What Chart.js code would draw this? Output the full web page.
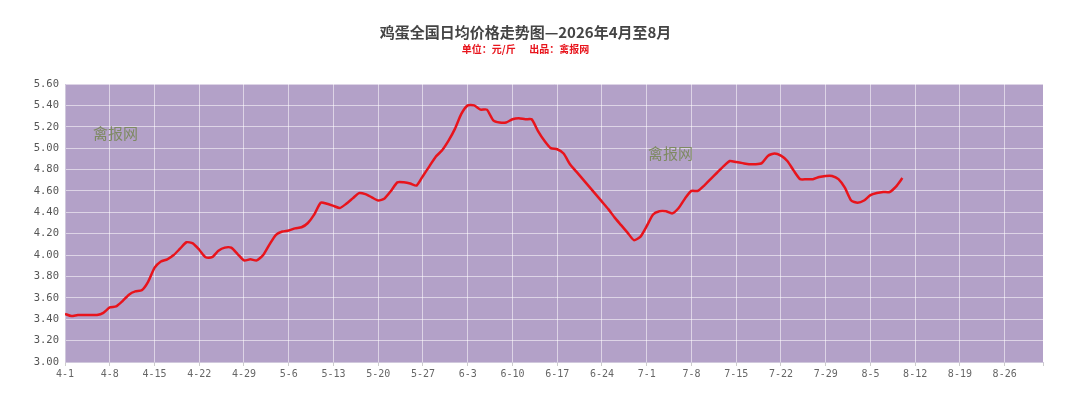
<!DOCTYPE html>
<html>
<head>
<meta charset="utf-8">
<script src="https://cdn.jsdelivr.net/npm/chart.js@4.4.1/dist/chart.umd.min.js"></script>
<style>
html,body{margin:0;padding:0;background:#fff;}
#wrap{width:1080px;height:418px;}
</style>
</head>
<body>
<div id="wrap"><canvas id="c" width="1080" height="418"></canvas></div>
<script>
const titleText = '鸡蛋全国日均价格走势图—2026年4月至8月';
const subtitleText = '单位：元/斤      出品：禽报网';
const watermark = '禽报网';

// Day labels from 4-1 to 9-1
const monthDays = [[4,30],[5,31],[6,30],[7,31],[8,31],[9,1]];
const days = [];
monthDays.forEach(([m,n]) => { for (let d=1; d<=n; d++) days.push(m+'-'+d); });

// x tick labels (every 7 days)
const tickLabels = ['4-1','4-8','4-15','4-22','4-29','5-6','5-13','5-20','5-27','6-3','6-10','6-17','6-24','7-1','7-8','7-15','7-22','7-29','8-5','8-12','8-19','8-26'];

// daily price (元/斤), 4-1 .. 8-10
const prices = [
3.45,3.43,3.44,3.44,3.44,3.44,3.46,3.51,3.52,3.57,
3.63,3.66,3.67,3.75,3.88,3.94,3.96,4.00,4.06,4.12,
4.11,4.05,3.98,3.98,4.04,4.07,4.07,4.01,3.95,3.96,
3.95,4.00,4.10,4.19,4.22,4.23,4.25,4.26,4.30,4.38,
4.49,4.48,4.46,4.44,4.48,4.53,4.58,4.57,4.54,4.51,
4.53,4.60,4.68,4.68,4.67,4.65,4.74,4.83,4.92,4.98,
5.07,5.18,5.32,5.40,5.40,5.36,5.36,5.26,5.24,5.24,
5.27,5.28,5.27,5.27,5.16,5.07,5.00,4.99,4.95,4.85,
4.78,4.71,4.64,4.57,4.50,4.43,4.35,4.28,4.21,4.14,
4.17,4.27,4.38,4.41,4.41,4.39,4.44,4.53,4.60,4.60,
4.65,4.71,4.77,4.83,4.88,4.87,4.86,4.85,4.85,4.86,
4.93,4.95,4.93,4.88,4.79,4.71,4.71,4.71,4.73,4.74,
4.74,4.71,4.63,4.51,4.49,4.51,4.56,4.58,4.59,4.59,
4.64,4.72
];

const yMin = 3.0, yMax = 5.6, yStep = 0.2;
const xStep = 7;

const bgPlugin = {
  id: 'plotBg',
  beforeDraw(chart) {
    const {ctx, chartArea: a} = chart;
    ctx.save();
    ctx.fillStyle = '#b3a1c8';
    ctx.fillRect(a.left, a.top, a.right - a.left, a.bottom - a.top);
    ctx.restore();
  },
  afterDatasetsDraw(chart) {
    const {ctx, chartArea: a} = chart;
    ctx.save();
    ctx.fillStyle = '#7e8a62';
    ctx.font = '15px "Noto Sans CJK SC", sans-serif';
    ctx.textBaseline = 'middle';
    ctx.fillText(watermark, a.left + 28, a.top + 49);
    ctx.fillText(watermark, a.left + 583, a.top + 69);
    ctx.restore();
  }
};

new Chart(document.getElementById('c'), {
  type: 'line',
  data: {
    datasets: [{
      data: prices.map((v, i) => ({ x: i, y: v })),
      borderColor: '#e8141c',
      borderWidth: 2.5,
      pointRadius: 0,
      tension: 0.2,
      fill: false
    }]
  },
  options: {
    responsive: false,
    animation: false,
    devicePixelRatio: 1,
    layout: { padding: { left: 8, right: 37, top: 0, bottom: 0 } },
    plugins: {
      legend: { display: false },
      tooltip: { enabled: false },
      title: {
        display: true,
        text: titleText,
        color: '#444',
        font: { family: '"Noto Sans CJK SC", sans-serif', size: 15, weight: 'bold' },
        padding: { top: 23, bottom: 2 }
      },
      subtitle: {
        display: true,
        text: subtitleText,
        color: '#e8141c',
        font: { family: '"Noto Sans CJK SC", sans-serif', size: 10, weight: 'bold' },
        padding: { top: 0, bottom: 29 }
      }
    },
    scales: {
      x: {
        type: 'linear',
        min: 0,
        max: days.length - 1,
        grid: {
          color: 'rgba(255,255,255,0.55)',
          lineWidth: 1,
          drawTicks: true,
          tickLength: 4,
          tickColor: '#ccc'
        },
        border: { color: '#d0c8dc' },
        ticks: {
          stepSize: xStep,
          autoSkip: false,
          maxRotation: 0,
          minRotation: 0,
          color: '#666',
          padding: 2,
          font: { family: '"DejaVu Sans Mono", monospace', size: 10 },
          callback: function(v) { return (v % xStep === 0 && tickLabels[v / xStep]) ? tickLabels[v / xStep] : ''; }
        },
        afterFit: (s) => { s.height = 56; }
      },
      y: {
        min: yMin,
        max: yMax,
        grid: { color: 'rgba(255,255,255,0.55)', drawTicks: false },
        border: { color: '#d0c8dc' },
        ticks: {
          stepSize: yStep,
          color: '#555',
          padding: 6,
          font: { family: '"DejaVu Sans Mono", monospace', size: 10.5 },
          callback: (v) => v.toFixed(2)
        },
        afterFit: (s) => { s.width = 57; }
      }
    }
  },
  plugins: [bgPlugin]
});
</script>
</body>
</html>
